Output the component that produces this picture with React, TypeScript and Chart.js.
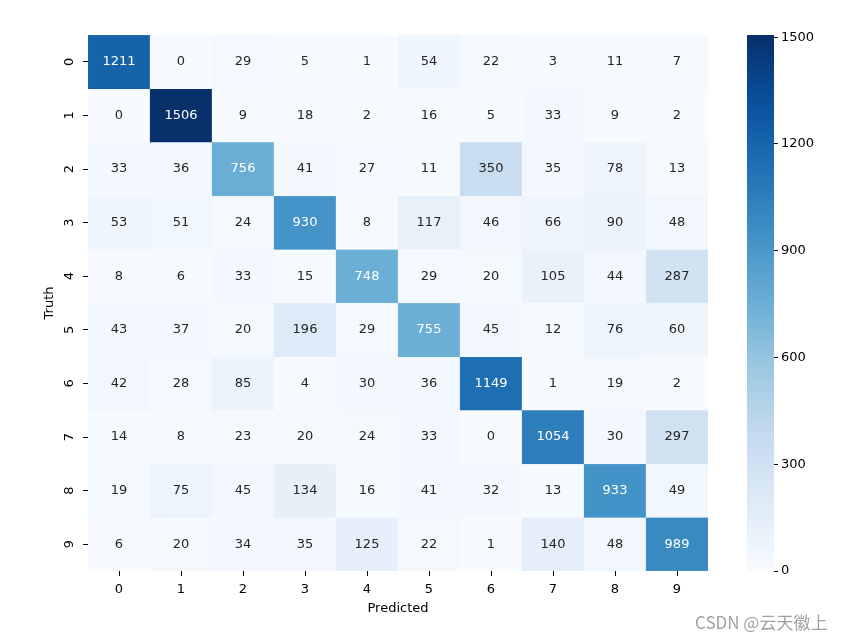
import React, { useEffect, useRef } from "react";
import { Chart, registerables } from "chart.js";
Chart.register(...registerables);

const classLabels = ["0", "1", "2", "3", "4", "5", "6", "7", "8", "9"];
const truth0 = [1211, 0, 29, 5, 1, 54, 22, 3, 11, 7];
const truth1 = [0, 1506, 9, 18, 2, 16, 5, 33, 9, 2];
const truth2 = [33, 36, 756, 41, 27, 11, 350, 35, 78, 13];
const truth3 = [53, 51, 24, 930, 8, 117, 46, 66, 90, 48];
const truth4 = [8, 6, 33, 15, 748, 29, 20, 105, 44, 287];
const truth5 = [43, 37, 20, 196, 29, 755, 45, 12, 76, 60];
const truth6 = [42, 28, 85, 4, 30, 36, 1149, 1, 19, 2];
const truth7 = [14, 8, 23, 20, 24, 33, 0, 1054, 30, 297];
const truth8 = [19, 75, 45, 134, 16, 41, 32, 13, 933, 49];
const truth9 = [6, 20, 34, 35, 125, 22, 1, 140, 48, 989];
const matrixRows = [truth0, truth1, truth2, truth3, truth4, truth5, truth6, truth7, truth8, truth9];
const colorbarTicks = [0, 300, 600, 900, 1200, 1500];
const vmin = 0;
const vmax = 1506;

const BLUES: [number, number, number][] = [
  [247, 251, 255], [222, 235, 247], [198, 219, 239], [158, 202, 225],
  [107, 174, 214], [66, 146, 198], [33, 113, 181], [8, 81, 156], [8, 48, 107],
];
function blues(t: number): string {
  t = Math.max(0, Math.min(1, t));
  const p = t * (BLUES.length - 1);
  const i = Math.min(BLUES.length - 2, Math.floor(p));
  const f = p - i;
  const a = BLUES[i], b = BLUES[i + 1];
  const c = a.map((v, k) => Math.round(v + (b[k] - v) * f));
  return `rgb(${c[0]},${c[1]},${c[2]})`;
}
function lum(t: number): number {
  t = Math.max(0, Math.min(1, t));
  const p = t * (BLUES.length - 1);
  const i = Math.min(BLUES.length - 2, Math.floor(p));
  const f = p - i;
  const a = BLUES[i], b = BLUES[i + 1];
  const c = a.map((v, k) => (v + (b[k] - v) * f) / 255).map((v) =>
    v <= 0.03928 ? v / 12.92 : Math.pow((v + 0.055) / 1.055, 2.4)
  );
  return 0.2126 * c[0] + 0.7152 * c[1] + 0.0722 * c[2];
}

const FONT = "'DejaVu Sans', sans-serif";

export default function App() {
  const mainRef = useRef<HTMLCanvasElement>(null);
  const cbRef = useRef<HTMLCanvasElement>(null);

  useEffect(() => {
    const annot = {
      id: "annot",
      afterDatasetsDraw(chart: any) {
        const ctx = chart.ctx;
        ctx.save();
        ctx.font = `13px ${FONT}`;
        ctx.textAlign = "center";
        ctx.textBaseline = "middle";
        matrixRows.forEach((row, r) => {
          const meta = chart.getDatasetMeta(r);
          row.forEach((v, c) => {
            const el: any = meta.data[c];
            const t = (v - vmin) / (vmax - vmin);
            ctx.fillStyle = lum(t) > 0.408 ? "#262626" : "#ffffff";
            ctx.fillText(String(v), el.x, (el.y + el.base) / 2);
          });
        });
        ctx.restore();
      },
    };

    const main = new Chart(mainRef.current!, {
      type: "bar",
      data: {
        labels: classLabels,
        datasets: matrixRows.map((row, r) => ({
          label: classLabels[r],
          data: row.map(() => [r, r + 1]) as any,
          backgroundColor: row.map((v) => blues((v - vmin) / (vmax - vmin))),
          borderColor: row.map((v) => blues((v - vmin) / (vmax - vmin))),
          borderWidth: 0.5,
          borderSkipped: false,
          grouped: false,
          barPercentage: 1,
          categoryPercentage: 1,
        })),
      },
      options: {
        animation: false,
        responsive: false,
        maintainAspectRatio: false,
        layout: { padding: { left: 38, top: 35, right: 0, bottom: 21 } },
        plugins: { legend: { display: false }, tooltip: { enabled: false } },
        scales: {
          x: {
            type: "category",
            offset: true,
            border: { display: false },
            grid: { display: true, drawOnChartArea: false, drawTicks: true, tickLength: 5, color: "#000", offset: false },
            ticks: { color: "#000", font: { family: FONT, size: 13 }, padding: 6, maxRotation: 0 },
            title: { display: true, text: "Predicted", color: "#000", font: { family: FONT, size: 13 }, padding: { top: 2, bottom: 4 } },
            afterFit: (s: any) => { s.height = 49; },
          },
          y: {
            type: "linear",
            min: 0,
            max: 10,
            reverse: true,
            border: { display: false },
            grid: { display: true, drawOnChartArea: false, drawTicks: true, tickLength: 5, color: "#000" },
            ticks: {
              color: "#000",
              font: { family: FONT, size: 13 },
              minRotation: 90,
              maxRotation: 90,
              crossAlign: "center",
              padding: 9,
              callback: (v: any) => classLabels[Math.floor(Number(v))],
            },
            afterBuildTicks: (s: any) => {
              s.ticks = classLabels.map((_, i) => ({ value: i + 0.5 }));
            },
            title: { display: true, text: "Truth", color: "#000", font: { family: FONT, size: 13 }, padding: 4 },
            afterFit: (s: any) => { s.width = 50; },
          },
        },
      },
      plugins: [annot],
    });

    const cb = new Chart(cbRef.current!, {
      type: "bar",
      data: {
        labels: [""],
        datasets: [
          {
            label: "colorbar",
            data: [[vmin, vmax]] as any,
            backgroundColor: (ctx: any) => {
              const area = ctx.chart.chartArea;
              if (!area) return blues(0.5);
              const g = ctx.chart.ctx.createLinearGradient(0, area.bottom, 0, area.top);
              for (let i = 0; i <= 20; i++) g.addColorStop(i / 20, blues(i / 20));
              return g;
            },
            borderWidth: 0,
            barPercentage: 1,
            categoryPercentage: 1,
          },
        ],
      },
      options: {
        animation: false,
        responsive: false,
        maintainAspectRatio: false,
        layout: { padding: { left: 7, top: 35, right: 0, bottom: 70 } },
        plugins: { legend: { display: false }, tooltip: { enabled: false } },
        scales: {
          x: { display: false },
          y: {
            position: "right",
            min: vmin,
            max: vmax,
            border: { display: false },
            grid: { display: true, drawOnChartArea: false, drawTicks: true, tickLength: 4, color: "#000" },
            ticks: { color: "#000", font: { family: FONT, size: 13 }, padding: 3, callback: (v: any) => String(v) },
            afterBuildTicks: (s: any) => {
              s.ticks = colorbarTicks.map((v) => ({ value: v }));
            },
            afterFit: (s: any) => { s.width = 73; },
          },
        },
      },
    });

    return () => {
      main.destroy();
      cb.destroy();
    };
  }, []);

  return (
    <div style={{ position: "absolute", left: 0, top: 0, width: 847, height: 641, background: "#fff", overflow: "hidden" }}>
      <canvas ref={mainRef} width={708} height={641} style={{ position: "absolute", left: 0, top: 0, width: 708, height: 641 }} />
      <canvas ref={cbRef} width={107} height={641} style={{ position: "absolute", left: 740, top: 0, width: 107, height: 641 }} />
      <div
        style={{
          position: "absolute",
          left: 695,
          top: 609,
          fontFamily: "'Noto Sans CJK SC', 'Noto Sans', sans-serif",
          fontSize: 17,
          color: "rgba(150,150,150,0.9)",
          whiteSpace: "nowrap",
        }}
      >
        CSDN @云天徽上
      </div>
    </div>
  );
}
